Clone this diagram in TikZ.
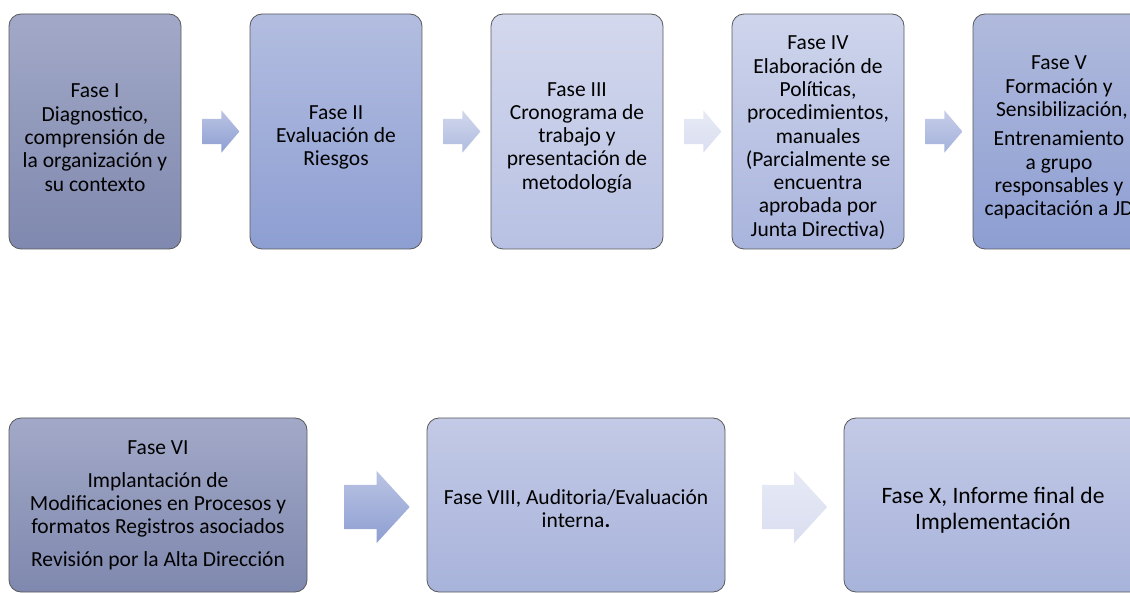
\documentclass[tikz,border=0pt]{standalone}
\usepackage{fontspec}
\setmainfont{Carlito}
\usetikzlibrary{shapes.arrows,calc,positioning}
% colores de las fases
\definecolor{grisA}{HTML}{A2A9C8}\definecolor{grisB}{HTML}{7F88AE}
\definecolor{azulA}{HTML}{B3BDE0}\definecolor{azulB}{HTML}{8D9ED2}
\definecolor{claroA}{HTML}{D3D8ED}\definecolor{claroB}{HTML}{B8C1E3}
\definecolor{medioA}{HTML}{CFD5EC}\definecolor{medioB}{HTML}{A9B4DD}
\definecolor{suaveA}{HTML}{C3CAE6}\definecolor{suaveB}{HTML}{A8B3DB}
% baja un poco el texto dentro de la caja
\newcommand{\bajar}[1]{\rule{0pt}{#1}}
\begin{document}
\begin{tikzpicture}[x=1pt,y=-1pt,
    fase/.style={draw=black!65, line width=0.8pt, rounded corners=12pt, align=center,
        inner sep=0pt, outer sep=0pt, font=\fontsize{21.5}{23.3}\selectfont},
    alta/.style={fase, minimum width=172pt, minimum height=235pt},
    baja/.style={fase, minimum width=298pt, minimum height=174pt},
    flecha/.style={single arrow, draw=none, inner xsep=0pt, inner ysep=12.5pt,
        single arrow head extend=8.5pt, single arrow tip angle=99, minimum height=37pt},
    flechota/.style={single arrow, draw=none, inner xsep=0pt, inner ysep=22pt,
        single arrow head extend=14pt, single arrow tip angle=95, minimum height=65pt}]
    \useasboundingbox (0,0) rectangle (1130,593);
    \clip (0,0) rectangle (1130,593);
    % fila de arriba
    \node[alta, top color=grisA, bottom color=grisB] (fase1) at (95,131.5)
        {\bajar{26pt}Fase I\\Diagnostico,\\comprensión de\\la organización y\\su contexto};
    \node[alta, top color=azulA, bottom color=azulB, right=69pt of fase1] (fase2)
        {\bajar{26pt}Fase II\\Evaluación de\\Riesgos};
    \node[alta, top color=claroA, bottom color=claroB, right=69pt of fase2] (fase3)
        {\bajar{26pt}Fase III\\Cronograma de\\trabajo y\\presentación de\\metodología};
    \node[alta, top color=medioA, bottom color=medioB, right=69pt of fase3] (fase4)
        {\bajar{26pt}Fase IV\\Elaboración de\\Políticas,\\procedimientos,\\manuales\\(Parcialmente se\\encuentra\\aprobada por\\Junta Directiva)};
    \node[alta, top color=azulA!85!grisA, bottom color=azulB, right=69pt of fase4] (fase5)
        {\bajar{26pt}Fase V\\Formación y\\\hspace*{6pt}Sensibilización,\\[6pt]Entrenamiento\\a grupo\\responsables y\\capacitación a JD};
    % fila de abajo
    \node[baja, top color=grisA, bottom color=grisB] (fase6) at (158,505)
        {Fase VI\\[10pt]Implantación de\\Modificaciones en Procesos y\\formatos Registros asociados\\[9pt]Revisión por la Alta Dirección};
    \node[baja, top color=suaveA, bottom color=suaveB, right=120pt of fase6] (fase8)
        {\bajar{22pt}Fase VIII, Auditoria/Evaluación\\interna\textbf{.}};
    \node[baja, top color=suaveA, bottom color=suaveB, right=119pt of fase8,
        font=\fontsize{23.5}{26}\selectfont] (fase10)
        {\bajar{27pt}Fase X, Informe final de\\Implementación};
    % flechas entre fases
    \node[flecha, top color=azulA!90!white, bottom color=azulB] (f12) at ($(fase1.east)!0.5!(fase2.west)$) {};
    \node[flecha, top color=azulA!60!white, bottom color=azulB!70!white] (f23) at ($(fase2.east)!0.5!(fase3.west)$) {};
    \node[flecha, top color=claroA!55!white, bottom color=claroA!85!white] (f34) at ($(fase3.east)!0.5!(fase4.west)$) {};
    \node[flecha, top color=azulA!75!white, bottom color=azulB!80!white] (f45) at ($(fase4.east)!0.5!(fase5.west)$) {};
    \node[flechota, top color=azulA!90!white, bottom color=azulB] (f68) at ($(fase6.east)!0.5!(fase8.west)+(0,2)$) {};
    \node[flechota, top color=claroA!55!white, bottom color=claroA!85!white] (f810) at ($(fase8.east)!0.5!(fase10.west)+(0,2)$) {};
\end{tikzpicture}
\end{document}
